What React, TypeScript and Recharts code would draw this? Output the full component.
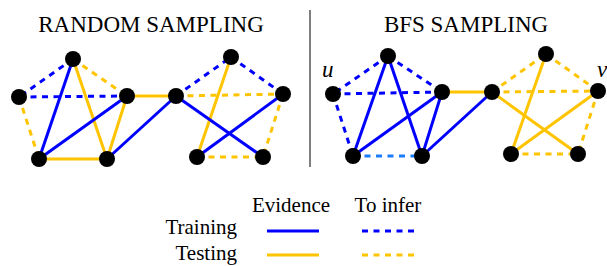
import { ScatterChart, Scatter, XAxis, YAxis, ReferenceLine } from 'recharts';

// node positions (graph units, same scale as the picture)
const randomNodes = [
  { id: 'a', x: 73, y: 59 },
  { id: 'b', x: 19, y: 97 },
  { id: 'c', x: 127, y: 96 },
  { id: 'd', x: 39, y: 159 },
  { id: 'e', x: 107, y: 159 },
  { id: 'f', x: 176, y: 96 },
  { id: 'g', x: 231, y: 57 },
  { id: 'h', x: 283, y: 94 },
  { id: 'i', x: 197, y: 157 },
  { id: 'j', x: 263, y: 157 },
];

const bfsNodes = [
  { id: 'a', x: 388, y: 56 },
  { id: 'b', x: 333, y: 94 },
  { id: 'c', x: 442, y: 92 },
  { id: 'd', x: 353, y: 156 },
  { id: 'e', x: 422, y: 156 },
  { id: 'f', x: 492, y: 92 },
  { id: 'g', x: 546, y: 54 },
  { id: 'h', x: 598, y: 91 },
  { id: 'i', x: 511, y: 154 },
  { id: 'j', x: 578, y: 154 },
];

// [from, to, kind]: te = train evidence, ti = train to infer, se = test evidence, si = test to infer
const randomEdges: [string, string, string][] = [
  ['a', 'b', 'ti'], ['a', 'c', 'si'], ['b', 'c', 'ti'], ['b', 'd', 'si'],
  ['a', 'd', 'te'], ['a', 'e', 'se'], ['c', 'd', 'te'], ['c', 'e', 'se'],
  ['d', 'e', 'se'], ['e', 'f', 'te'], ['c', 'f', 'se'], ['f', 'g', 'ti'],
  ['g', 'h', 'ti'], ['f', 'h', 'si'], ['g', 'i', 'se'], ['f', 'j', 'te'],
  ['h', 'i', 'te'], ['h', 'j', 'si'], ['i', 'j', 'si'],
];

const bfsEdges: [string, string, string][] = [
  ['a', 'b', 'ti'], ['a', 'c', 'ti'], ['b', 'c', 'ti'], ['b', 'd', 'ti'],
  ['d', 'e', 'tl'], ['a', 'd', 'te'], ['a', 'e', 'te'], ['c', 'd', 'te'],
  ['c', 'e', 'te'], ['e', 'f', 'te'], ['c', 'f', 'se'], ['f', 'g', 'si'],
  ['g', 'h', 'si'], ['f', 'h', 'si'], ['h', 'j', 'si'], ['i', 'j', 'si'],
  ['g', 'i', 'se'], ['f', 'j', 'se'], ['h', 'i', 'se'],
];

const titles = ['RANDOM SAMPLING', 'BFS SAMPLING'];
const legendCols = ['Evidence', 'To infer'];
const legendRows = ['Training', 'Testing'];

const BLUE = '#0000ff';
const GOLD = '#ffc400';
const SERIF = 'Liberation Serif';

const styles: Record<string, { stroke: string; dash?: string }> = {
  te: { stroke: BLUE },
  ti: { stroke: BLUE, dash: '6 5.5' },
  tl: { stroke: '#1a7dff', dash: '6 5.5' },
  se: { stroke: GOLD },
  si: { stroke: GOLD, dash: '6 5.5' },
};

const W = 607;
const H = 266;

function edgeLines(nodes: { id: string; x: number; y: number }[], edges: [string, string, string][], key: string) {
  const pos = Object.fromEntries(nodes.map((n) => [n.id, n]));
  return edges.map(([s, t, k], i) => (
    <ReferenceLine
      key={`${key}-${i}`}
      segment={[
        { x: pos[s].x, y: pos[s].y },
        { x: pos[t].x, y: pos[t].y },
      ]}
      stroke={styles[k].stroke}
      strokeWidth={3}
      strokeDasharray={styles[k].dash}
      ifOverflow="visible"
    />
  ));
}

const T = ({ x, y, size, anchor, italic, children }: any) => (
  <text
    x={x}
    y={y}
    textAnchor={anchor || 'start'}
    fill="#000"
    style={{ fontFamily: SERIF, fontSize: size, fontStyle: italic ? 'italic' : 'normal' }}
  >
    {children}
  </text>
);

const Node = (p: any) => <circle cx={p.cx} cy={p.cy} r={8} fill="#000" />;

export default function App() {
  return (
    <div style={{ position: 'absolute', left: 0, top: 0, width: W, height: H, background: '#fff' }}>
      <ScatterChart width={W} height={H} margin={{ top: 0, right: 0, bottom: 0, left: 0 }}>
        <XAxis type="number" dataKey="x" domain={[0, W]} hide />
        <YAxis type="number" dataKey="y" domain={[0, H]} reversed hide />
        {edgeLines(randomNodes, randomEdges, 'r')}
        {edgeLines(bfsNodes, bfsEdges, 'b')}
        <Scatter data={randomNodes} fill="#000" isAnimationActive={false} shape={Node} />
        <Scatter data={bfsNodes} fill="#000" isAnimationActive={false} shape={Node} />
      </ScatterChart>
      {/* titles, labels and the legend key */}
      <svg width={W} height={H} style={{ position: 'absolute', left: 0, top: 0, pointerEvents: 'none' }}>
        <T x={151} y={32} size={23} anchor="middle">{titles[0]}</T>
        <T x={466} y={32} size={23} anchor="middle">{titles[1]}</T>
        <T x={322} y={77} size={23} italic>u</T>
        <T x={597} y={77} size={23} italic>v</T>
        <T x={291} y={212} size={21} anchor="middle">{legendCols[0]}</T>
        <T x={388} y={212} size={21} anchor="middle">{legendCols[1]}</T>
        <T x={237} y={234} size={21} anchor="end">{legendRows[0]}</T>
        <T x={237} y={260} size={21} anchor="end">{legendRows[1]}</T>
        <line x1={310} y1={10} x2={310} y2={167} stroke="#555" strokeWidth={1.5} />
        <line x1={267} y1={231} x2={319} y2={231} stroke={BLUE} strokeWidth={3} />
        <line x1={362} y1={231} x2={414} y2={231} stroke={BLUE} strokeWidth={3} strokeDasharray="6 5.5" />
        <line x1={267} y1={255} x2={319} y2={255} stroke={GOLD} strokeWidth={3} />
        <line x1={362} y1={255} x2={414} y2={255} stroke={GOLD} strokeWidth={3} strokeDasharray="6 5.5" />
      </svg>
    </div>
  );
}
